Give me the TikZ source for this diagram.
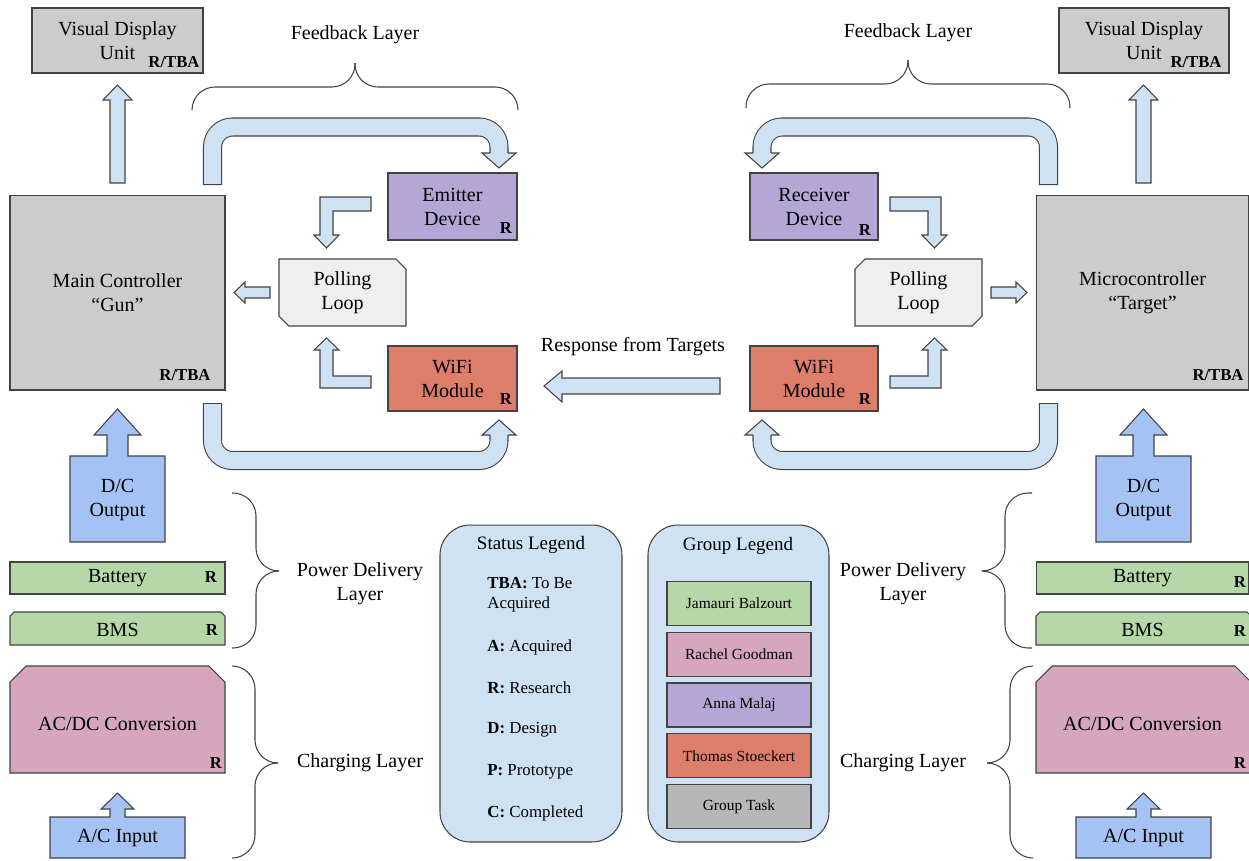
\documentclass[tikz,border=0pt]{standalone}
\usepackage{fontspec}
\setmainfont{Liberation Serif}
\usetikzlibrary{positioning}

\definecolor{linec}{HTML}{434343}
\definecolor{greyc}{HTML}{CCCCCC}
\definecolor{paleblue}{HTML}{CFE2F3}
\definecolor{midblue}{HTML}{A4C2F4}
\definecolor{greenc}{HTML}{B6D7A8}
\definecolor{pinkc}{HTML}{D5A6BD}
\definecolor{purplec}{HTML}{B4A7D6}
\definecolor{redc}{HTML}{DD7E6B}
\definecolor{loopc}{HTML}{EFEFEF}
\definecolor{taskc}{HTML}{B7B7B7}

\tikzset{
  box/.style={draw=linec, line width=0.6pt, align=center, inner sep=0pt},
  tag/.style={font=\bfseries\fontsize{9.5}{11}\selectfont, inner sep=0pt},
  blk/.style={draw=linec, fill=paleblue, line width=0.6pt},
  bandout/.style={draw=linec, line width=0.36cm+0.6pt, rounded corners=0.4cm},
  bandin/.style={draw=paleblue, line width=0.36cm-0.6pt, rounded corners=0.4cm, shorten <=0.6pt},
  brc/.style={draw=linec, line width=0.6pt, rounded corners=0.46cm},
  item/.style={anchor=west, align=left, inner sep=0pt, font=\fontsize{9.6}{11.4}\selectfont},
  member/.style={box, minimum width=2.88cm, minimum height=0.88cm, font=\fontsize{8.8}{10.5}\selectfont},
  title/.style={font=\fontsize{10.8}{13}\selectfont},
}

% thick band with an outline
\newcommand{\band}[1]{\draw[bandout] #1; \draw[bandin] #1;}

% block arrows and cut boxes of one side
\newcommand{\sideparts}{%
  \draw[blk, fill=loopc] (279,259) -- (396,259) -- (406,269) -- (406,326) -- (289,326) -- (279,316) -- cycle;
  \draw[blk, fill=greenc] (10,645) -- (10,616) -- (14,612) -- (221,612) -- (225,616) -- (225,645) -- cycle;
  \draw[blk, fill=pinkc] (10,773) -- (10,682) -- (26,666) -- (209,666) -- (225,682) -- (225,773) -- cycle;
  \draw[blk] (110,183) -- (110,100) -- (103,100) -- (117.5,85) -- (132,100) -- (125,100) -- (125,183) -- cycle;
  \band{(212.5,185) -- (212.5,127) -- (499,127) -- (499,153)}
  \filldraw[blk] (490,153) -- (482,153) -- (499,168) -- (516,153) -- (508,153);
  \band{(212.5,403) -- (212.5,460.5) -- (499,460.5) -- (499,435)}
  \filldraw[blk] (490,435) -- (482,435) -- (499,420) -- (516,435) -- (508,435);
  \draw[blk] (371,197) -- (320,197) -- (320,235) -- (314,235) -- (326.5,248) -- (339,235) -- (333,235) -- (333,211) -- (371,211) -- cycle;
  \draw[blk] (371,388) -- (320,388) -- (320,350) -- (314,350) -- (326.5,338) -- (339,350) -- (333,350) -- (333,376) -- (371,376) -- cycle;
  \draw[blk] (270,287) -- (245,287) -- (245,282) -- (234,292.5) -- (245,303) -- (245,298) -- (270,298) -- cycle;
  \draw[blk, fill=midblue] (70,456) -- (107,456) -- (107,435) -- (94,435) -- (117.5,409) -- (141,435) -- (128,435) -- (128,456) -- (165,456) -- (165,542) -- (70,542) -- cycle;
  \draw[blk, fill=midblue] (50,817) -- (110,817) -- (110,809) -- (101,809) -- (117.5,793) -- (134,809) -- (125,809) -- (125,817) -- (185,817) -- (185,858) -- (50,858) -- cycle;
}

\begin{document}
\begin{tikzpicture}[x=0.02cm, y=-0.02cm, font=\fontsize{11.4}{13.7}\selectfont]
\useasboundingbox (0,0) rectangle (1249,860);

\sideparts
\begin{scope}[shift={(1261,0)}, xscale=-1]
\sideparts
\end{scope}
\draw[blk] (720,378) -- (562,378) -- (562,371) -- (544,386) -- (562,402) -- (562,394) -- (720,394) -- cycle;

% gun side
\node[box, fill=greyc, minimum width=3.42cm, minimum height=1.3cm] (vdu_l) at (117.5,40.5) {Visual Display\\Unit};
\node[tag] at (174,62) {R/TBA};
\node[box, fill=greyc, minimum width=4.3cm, minimum height=3.9cm] (main_l) at (117.5,292.5) {Main Controller\\“Gun”};
\node[tag] at (185,375) {R/TBA};
\node[box, fill=purplec, minimum width=2.58cm, minimum height=1.34cm] (emit) at (452.5,206.5) {Emitter\\Device};
\node[tag] at (506,228) {R};
\node[align=center] (poll_l) at (342.5,293) {Polling\\Loop};
\node[box, fill=redc, minimum width=2.58cm, minimum height=1.3cm] (wifi_l) at (452.5,378.5) {WiFi\\Module};
\node[tag] at (506,399) {R};
\node[align=center] (dc_l) at (117.5,500) {D/C\\Output};
\node[box, fill=greenc, minimum width=4.3cm, minimum height=0.64cm] (batt_l) at (117.5,578) {Battery};
\node[tag] at (211,577) {R};
\node (bms_l) at (117.5,630) {BMS};
\node[tag] at (212,630) {R};
\node (acdc_l) at (117.5,724) {AC/DC Conversion};
\node[tag] at (216,763) {R};
\node (acin_l) at (117.5,838) {A/C Input};

% target side
\node[box, fill=greyc, minimum width=3.4cm, minimum height=1.3cm] (vdu_r) at (1144,40.5) {Visual Display\\Unit};
\node[tag] at (1196,62) {R/TBA};
\node[box, fill=greyc, minimum width=4.26cm, minimum height=3.9cm] (micro) at (1142.5,292.5) {Microcontroller\\“Target”};
\node[tag] at (1218,375) {R/TBA};
\node[box, fill=purplec, minimum width=2.56cm, minimum height=1.34cm] (recv) at (814,206.5) {Receiver\\Device};
\node[tag] at (865,230) {R};
\node[align=center] (poll_r) at (918.5,293) {Polling\\Loop};
\node[box, fill=redc, minimum width=2.56cm, minimum height=1.3cm] (wifi_r) at (814,378.5) {WiFi\\Module};
\node[tag] at (865,399) {R};
\node[align=center] (dc_r) at (1143.5,500) {D/C\\Output};
\node[box, fill=greenc, minimum width=4.26cm, minimum height=0.64cm] (batt_r) at (1142.5,578) {Battery};
\node[tag] at (1240,582) {R};
\node (bms_r) at (1142.5,630) {BMS};
\node[tag] at (1240,631) {R};
\node (acdc_r) at (1142.5,724) {AC/DC Conversion};
\node[tag] at (1240,763) {R};
\node (acin_r) at (1143.5,838) {A/C Input};

% layer braces
\node (fb_l) at (355,35) {Feedback Layer};
\draw[brc] (192,110) -- (192,87) -- (355,87) -- (355,63);
\draw[brc] (518,110) -- (518,87) -- (355,87) -- (355,63);
\node (fb_r) at (908,33) {Feedback Layer};
\draw[brc] (746,108) -- (746,84) -- (908,84) -- (908,60);
\draw[brc] (1070,108) -- (1070,84) -- (908,84) -- (908,60);
\node (resp) at (633,347) {Response from Targets};
\node[align=center] (pd_l) at (360,583.5) {Power Delivery\\Layer};
\draw[brc] (232,493) -- (256,493) -- (256,571) -- (279,571);
\draw[brc] (232,648) -- (256,648) -- (256,571) -- (279,571);
\node (ch_l) at (360,763) {Charging Layer};
\draw[brc] (232,666) -- (255,666) -- (255,763) -- (278,763);
\draw[brc] (232,858) -- (255,858) -- (255,763) -- (278,763);
\node[align=center] (pd_r) at (903,583.5) {Power Delivery\\Layer};
\draw[brc] (1032,493) -- (1005,493) -- (1005,571) -- (983,571);
\draw[brc] (1032,648) -- (1005,648) -- (1005,571) -- (983,571);
\node (ch_r) at (903,763) {Charging Layer};
\draw[brc] (1033,666) -- (1010,666) -- (1010,763) -- (987,763);
\draw[brc] (1033,858) -- (1010,858) -- (1010,763) -- (987,763);

% legends
\node[box, fill=paleblue, rounded corners=0.6cm, minimum width=3.64cm, minimum height=6.34cm] (status) at (531,683.5) {};
\node[title] (status_t) at (531,545) {Status Legend};
\node[item] (s_tba) at (487,595) {\textbf{TBA:} To Be\\Acquired};
\foreach \y/\k/\t in {647/A/Acquired, 688/R/Research, 730/D/Design, 772/P/Prototype, 813/C/Completed}
  \node[item] (s_\k) at (487,\y) {\textbf{\k:} \t};
\node[box, fill=paleblue, rounded corners=0.6cm, minimum width=3.62cm, minimum height=6.34cm] (group) at (738.5,683.5) {};
\node[title] (group_t) at (738,546) {Group Legend};
\foreach \who/\col [count=\i from 0] in {Jamauri Balzourt/greenc, Rachel Goodman/pinkc, Anna Malaj/purplec, Thomas Stoeckert/redc, Group Task/taskc}
  \node[member, fill=\col] (g_\i) at (739,603.5+50.75*\i) {\who};
\end{tikzpicture}
\end{document}
